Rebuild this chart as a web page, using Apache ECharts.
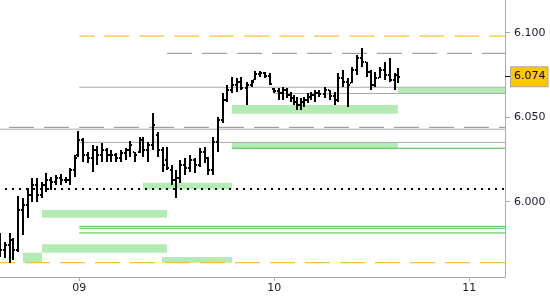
<!DOCTYPE html>
<html>
<head>
<meta charset="utf-8">
<script src="https://cdn.jsdelivr.net/npm/echarts@6/dist/echarts.min.js"></script>
<style>
html,body{margin:0;padding:0;background:#fff;}
#chart{width:550px;height:300px;}
</style>
</head>
<body>
<div id="chart"></div>
<script>
// bar times in hours relative to day 09 00:00
const times = [-9.70,-9.14,-8.53,-8.10,-7.54,-6.93,-6.31,-5.82,-5.21,-4.59,-4.10,-3.48,-2.87,-2.25,-1.64,-1.15,-0.53,-0.16,0.46,1.07,
1.69,2.18,2.79,3.41,3.90,4.52,5.13,5.75,6.24,6.86,7.47,7.84,8.46,9.07,9.69,10.30,10.79,11.41,11.90,12.39,
13.01,13.62,14.24,14.86,15.47,15.84,16.46,17.07,17.69,18.18,18.79,19.41,19.90,20.64,21.26,21.62,22.24,22.86,23.47,23.96,
24.58,25.07,25.56,26.06,26.42,26.79,27.28,27.66,28.15,28.52,29.01,29.50,30.24,30.86,31.47,31.84,32.46,33.07,33.56,34.18,
34.79,35.41,35.90,36.39,37.01,37.63,38.24,38.86,39.23];
const opens = [5.9773,5.9714,5.9744,5.9773,5.9714,5.9951,5.9981,6.0040,6.0099,6.0040,6.0099,6.0128,6.0117,6.0140,6.0128,6.0128,6.0188,6.0276,6.0365,6.0276,
6.0259,6.0306,6.0276,6.0306,6.0276,6.0276,6.0259,6.0288,6.0306,6.0294,6.0294,6.0365,6.0306,6.0336,6.0395,6.0306,6.0247,6.0188,6.0128,6.0140,
6.0217,6.0199,6.0247,6.0217,6.0294,6.0259,6.0188,6.0353,6.0483,6.0602,6.0661,6.0691,6.0708,6.0673,6.0691,6.0720,6.0756,6.0762,6.0744,6.0667,
6.0655,6.0643,6.0661,6.0631,6.0614,6.0590,6.0572,6.0590,6.0602,6.0620,6.0631,6.0643,6.0637,6.0661,6.0626,6.0602,6.0732,6.0708,6.0702,6.0779,
6.0850,6.0827,6.0767,6.0691,6.0732,6.0779,6.0750,6.0720,6.0750];
const highs = [5.9815,5.9761,5.9815,5.9785,6.0034,6.0022,6.0081,6.0140,6.0140,6.0117,6.0170,6.0146,6.0158,6.0164,6.0146,6.0199,6.0276,6.0418,6.0377,6.0294,
6.0336,6.0330,6.0347,6.0318,6.0306,6.0288,6.0306,6.0318,6.0359,6.0294,6.0383,6.0383,6.0353,6.0525,6.0412,6.0324,6.0324,6.0217,6.0188,6.0247,
6.0259,6.0276,6.0259,6.0318,6.0324,6.0265,6.0383,6.0501,6.0643,6.0691,6.0738,6.0732,6.0738,6.0708,6.0720,6.0773,6.0773,6.0767,6.0762,6.0673,
6.0673,6.0679,6.0673,6.0649,6.0631,6.0620,6.0614,6.0620,6.0643,6.0649,6.0661,6.0661,6.0679,6.0661,6.0649,6.0762,6.0779,6.0732,6.0797,6.0868,
6.0909,6.0827,6.0779,6.0767,6.0797,6.0827,6.0850,6.0762,6.0791];
const lows = [5.9673,5.9667,5.9637,5.9655,5.9702,5.9803,5.9904,5.9998,5.9998,6.0022,6.0057,6.0069,6.0099,6.0099,6.0111,6.0099,6.0146,6.0265,6.0235,6.0229,
6.0176,6.0217,6.0235,6.0235,6.0235,6.0235,6.0235,6.0247,6.0265,6.0235,6.0288,6.0265,6.0235,6.0306,6.0265,6.0176,6.0188,6.0099,6.0022,6.0111,
6.0158,6.0176,6.0170,6.0205,6.0229,6.0158,6.0158,6.0294,6.0466,6.0590,6.0643,6.0649,6.0661,6.0572,6.0679,6.0720,6.0738,6.0732,6.0691,6.0643,
6.0602,6.0602,6.0614,6.0590,6.0572,6.0543,6.0543,6.0560,6.0584,6.0602,6.0590,6.0620,6.0614,6.0602,6.0572,6.0590,6.0679,6.0560,6.0702,6.0750,
6.0797,6.0738,6.0661,6.0679,6.0732,6.0720,6.0708,6.0661,6.0702];
const closes = [5.9714,5.9744,5.9773,5.9714,5.9951,5.9981,6.0040,6.0099,6.0040,6.0099,6.0128,6.0117,6.0140,6.0128,6.0128,6.0188,6.0259,6.0365,6.0276,6.0259,
6.0306,6.0276,6.0306,6.0276,6.0276,6.0259,6.0288,6.0306,6.0336,6.0276,6.0365,6.0306,6.0336,6.0454,6.0306,6.0217,6.0199,6.0128,6.0140,6.0217,
6.0199,6.0247,6.0217,6.0294,6.0259,6.0188,6.0353,6.0483,6.0602,6.0661,6.0691,6.0708,6.0673,6.0691,6.0708,6.0756,6.0762,6.0744,6.0697,6.0655,
6.0643,6.0661,6.0631,6.0614,6.0590,6.0572,6.0590,6.0602,6.0620,6.0631,6.0643,6.0637,6.0661,6.0626,6.0602,6.0732,6.0708,6.0691,6.0779,6.0850,
6.0827,6.0767,6.0691,6.0732,6.0779,6.0750,6.0720,6.0750,6.0740];

// axis
const dayTicks = [0, 24, 48];
const dayLabels = ['09', '10', '11'];
const priceTicks = [6.000, 6.050, 6.100];
const xMin = -9.76, xMax = 52.39;
const yMin = 5.95544, yMax = 6.11935;

// horizontal levels: [price, start hour]
const orangeDashed = [[6.0980, 0], [5.9639, xMin]];
const grayDashed = [[6.0878, 10.8], [6.0440, -8.65]];
const graySolid = [[6.0677, 0], [6.0640, 24], [6.0429, xMin], [6.0351, 0]];
const greenSolid = [[6.0316, 18.8], [5.9854, 0], [5.9843, 0], [5.9815, 0]];
const blackDotted = [[6.0075, -9.14]];

// zones: [start hour, end hour, low, high]
const zones = [
  [18.8, 39.2, 6.0521, 6.0572],
  [18.8, 39.2, 6.0316, 6.0349],
  [7.84, 18.8, 6.0073, 6.0112],
  [-4.59, 10.79, 5.9905, 5.9951],
  [-4.59, 10.79, 5.9698, 5.9748],
  [-6.93, -4.59, 5.9639, 5.9698],
  [10.18, 18.8, 5.9639, 5.9673],
  [39.2, xMax, 6.0641, 6.0673]
];

const lastPrice = closes[closes.length - 1];
const FONT = 'DejaVu Sans';

function levelSeries(levels, style) {
  return levels.map(l => ({
    type: 'line', silent: true, symbol: 'none', animation: false,
    data: [[l[1], l[0]], [xMax, l[0]]],
    lineStyle: style, z: 3
  }));
}

const chart = echarts.init(document.getElementById('chart'), null, {renderer: 'canvas'});
chart.setOption({
  animation: false,
  backgroundColor: '#ffffff',
  grid: {left: 0, right: 45, top: 0, bottom: 23, containLabel: false, outerBoundsMode: 'none'},
  xAxis: {
    type: 'value', min: xMin, max: xMax,
    axisLine: {show: true, onZero: false, lineStyle: {color: '#aaaaaa', width: 1}},
    axisTick: {show: true, customValues: dayTicks, length: 4, lineStyle: {color: '#aaaaaa'}},
    axisLabel: {customValues: dayTicks, margin: 6, color: '#1a1a2a', fontSize: 11, fontFamily: FONT,
      formatter: v => dayLabels[dayTicks.indexOf(Math.round(v))] || ''},
    splitLine: {show: false}
  },
  yAxis: [{
    type: 'value', position: 'right', min: yMin, max: yMax,
    axisLine: {show: true, onZero: false, lineStyle: {color: '#aaaaaa', width: 1}},
    axisTick: {show: true, customValues: priceTicks, length: 5, lineStyle: {color: '#aaaaaa'}},
    axisLabel: {customValues: priceTicks, margin: 9, color: '#1a1a2a', fontSize: 11, fontFamily: FONT,
      formatter: v => v.toFixed(3)},
    splitLine: {show: false}
  }, {
    type: 'value', position: 'right', min: yMin, max: yMax,
    axisLine: {show: false, onZero: false},
    axisTick: {show: true, customValues: [lastPrice], length: 5, lineStyle: {color: '#000000'}},
    axisLabel: {customValues: [lastPrice], margin: 6, color: '#000', fontSize: 11, fontFamily: FONT,
      backgroundColor: '#fcc800', borderColor: '#a8a8a8', borderWidth: 1, padding: [4, 2, 4, 3],
      formatter: v => v.toFixed(3)},
    splitLine: {show: false}
  }],
  series: [
    {
      type: 'custom', silent: true, z: 1, clip: true,
      data: zones,
      renderItem: function (params, api) {
        const p1 = api.coord([api.value(0), api.value(3)]);
        const p2 = api.coord([api.value(1), api.value(2)]);
        return {type: 'rect', shape: {x: p1[0], y: p1[1], width: p2[0] - p1[0], height: p2[1] - p1[1]},
          style: {fill: '#b4ebb4'}};
      }
    },
    ...levelSeries(orangeDashed, {color: '#ffb400', width: 1, type: [25, 10], dashOffset: 10}),
    ...levelSeries(grayDashed, {color: '#8c8c8c', width: 1, type: [25, 10]}),
    ...levelSeries(graySolid, {color: '#aaaaaa', width: 1, type: 'solid'}),
    ...levelSeries(greenSolid, {color: '#44c044', width: 1, type: 'solid'}),
    ...levelSeries(blackDotted, {color: '#000000', width: 2, type: [2, 5]}),
    {
      type: 'custom', silent: true, z: 5, clip: true,
      data: times.map((t, i) => [t, opens[i], highs[i], lows[i], closes[i]]),
      encode: {x: 0, y: [1, 2, 3, 4]},
      renderItem: function (params, api) {
        const t = api.value(0);
        const pO = api.coord([t, api.value(1)]);
        const pH = api.coord([t, api.value(2)]);
        const pL = api.coord([t, api.value(3)]);
        const pC = api.coord([t, api.value(4)]);
        const x = Math.round(pH[0]);
        const yh = Math.round(pH[1]), yl = Math.round(pL[1]);
        return {type: 'group', children: [
          {type: 'rect', shape: {x: x - 1, y: yh, width: 2, height: Math.max(2, yl - yh)}, style: {fill: '#000'}},
          {type: 'rect', shape: {x: x - 2, y: Math.round(pO[1]) - 1, width: 1, height: 2}, style: {fill: '#000'}},
          {type: 'rect', shape: {x: x + 1, y: Math.round(pC[1]) - 1, width: 1, height: 2}, style: {fill: '#000'}}
        ]};
      }
    }
  ]
});
</script>
</body>
</html>
